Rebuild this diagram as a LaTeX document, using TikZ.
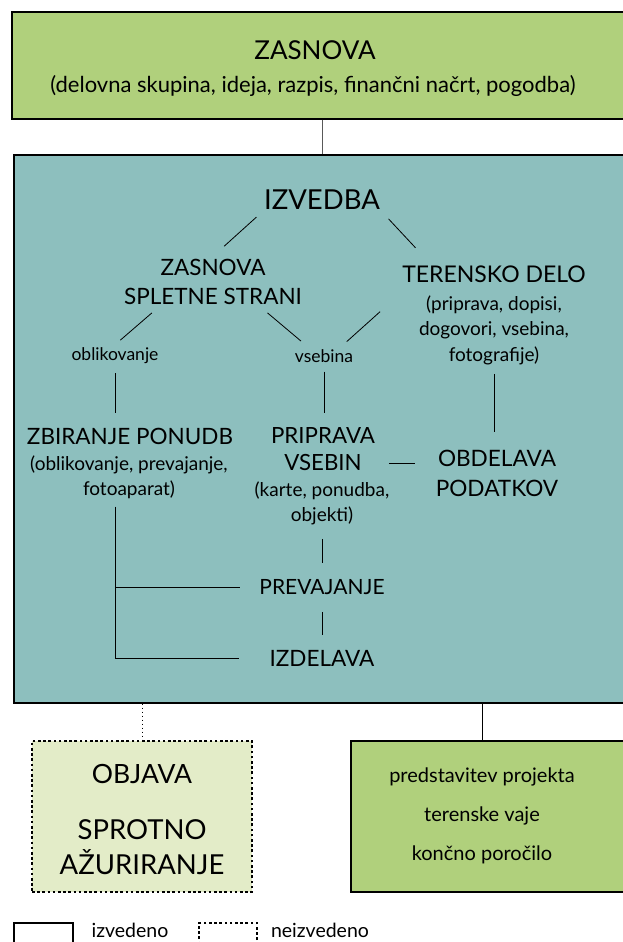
\documentclass[tikz,border=0pt]{standalone}
\usepackage{fontspec}
\setmainfont{Lato}
\definecolor{planGreen}{HTML}{B0D07C}
\definecolor{planTeal}{HTML}{8DBFBE}
\definecolor{planPale}{HTML}{E3ECC8}
\begin{document}
\begin{tikzpicture}[x=1pt,y=-1pt,
    box/.style={draw,line width=1.2pt,inner sep=0pt},
    planned/.style={box,dash pattern=on 2.6pt off 2.6pt},
    t/.style 2 args={align=center,inner sep=3pt,font=\fontsize{#1}{#2}\selectfont}]
      \useasboundingbox (0,0) rectangle (623,942);
      \clip (0,0) rectangle (623,942);
      \draw
        (326,65.5) node[box,fill=planGreen,minimum width=628pt,minimum height=107pt] (zasBox){}
        (327,429) node[box,fill=planTeal,minimum width=626pt,minimum height=548pt] (izvBox){}
        (142,816.5) node[planned,fill=planPale,minimum width=220pt,minimum height=151pt] (objBox){}
        (495.5,816.5) node[box,fill=planGreen,minimum width=289pt,minimum height=151pt] (resBox){}
        (43.5,941.5) node[box,line width=1.5pt,minimum width=59pt,minimum height=37pt] (doneKey){}
        (228,941.5) node[planned,minimum width=58pt,minimum height=37pt] (todoKey){}
        (315,50) node[t={26}{32}] (zasTitle){ZASNOVA}
        (313,86) node[t={22}{26}] (zasSub){(delovna skupina, ideja, razpis, finančni načrt, pogodba)}
        (322,200) node[t={27.5}{34}] (izvedba){IZVEDBA}
        (213,282) node[t={22.5}{28.5}] (splet){ZASNOVA\\SPLETNE STRANI}
        (494,274) node[t={23}{26}] (teren){TERENSKO DELO}
        (494,330) node[t={19}{25.5}] (terenSub){(priprava, dopisi,\\dogovori, vsebina,\\fotografije)}
        (115,356) node[t={17.5}{20}] (oblik){oblikovanje}
        (324,356) node[t={17.5}{20}] (vseb){vsebina}
        (130,436) node[t={22.5}{26}] (zbir){ZBIRANJE PONUDB}
        (129,477) node[t={19}{25}] (zbirSub){(oblikovanje, prevajanje,\\fotoaparat)}
        (323,436) node[t={22.3}{26}] (priprava){PRIPRAVA}
        (323,463) node[t={22.3}{26}] (vsebin){VSEBIN}
        (322,503) node[t={19}{25}] (pripSub){(karte, ponudba,\\objekti)}
        (497,473) node[t={22.6}{30}] (obdel){OBDELAVA\\PODATKOV}
        (322,587) node[t={21}{26}] (prevaj){PREVAJANJE}
        (322,658) node[t={22.5}{26}] (izdel){IZDELAVA}
        (142,774) node[t={26.5}{30}] (objava){OBJAVA}
        (142,847) node[t={27.5}{35}] (sprotno){SPROTNO\\AŽURIRANJE}
        (482,816) node[t={20}{39}] (resText){predstavitev projekta\\terenske vaje\\končno poročilo}
        (130,930.5) node[t={19.5}{22}] (doneTxt){izvedeno}
        (320,930.5) node[t={19.5}{22}] (todoTxt){neizvedeno};
      \begin{scope}[line width=0.8pt]
        \draw[gray!70!black] (zasBox.south -| izvedba) to (izvBox.north -| izvedba);
        \draw[shorten <=6pt,shorten >=15pt] (izvedba.south west) to (splet.north);
        \draw[shorten <=8pt,shorten >=20pt] (izvedba.south east) to ([xshift=30pt]teren.north west);
        \draw[shorten <=8pt,shorten >=7pt] (splet.-155) to (oblik.north);
        \draw[shorten <=8pt,shorten >=8pt] (splet.-28) to (vseb.150);
        \draw[shorten <=39pt,shorten >=7pt] ([xshift=10pt]teren.south west) to (vseb.29);
        \draw[shorten <=6pt,shorten >=12pt] (oblik.south) to (oblik.south |- zbir.north);
        \draw[shorten <=6pt,shorten >=12pt] (vseb.south) to (vseb.south |- priprava.north);
        \draw[shorten <=6pt,shorten >=15pt] (terenSub.south) to (terenSub.south |- obdel.north);
        \draw[shorten <=24pt,shorten >=18pt] (vsebin.east) to (vsebin.east -| obdel.west);
        \draw[shorten <=11pt,shorten >=13pt] (pripSub.south) to (pripSub.south |- prevaj.north);
        \draw[shorten <=14pt,shorten >=12pt] (prevaj.south) to (izdel.north);
        \draw[shorten <=5pt,shorten >=27pt] (zbirSub.south -| oblik) |- (izdel.west);
        \draw[shorten >=16pt] (oblik |- prevaj) to (prevaj.west);
        \draw[dash pattern=on 1.5pt off 2.5pt] (izvBox.south -| objBox.north) to (objBox.north);
        \draw (izvBox.south -| resText) to (resBox.north -| resText);
      \end{scope}
    \end{tikzpicture}
\end{document}
